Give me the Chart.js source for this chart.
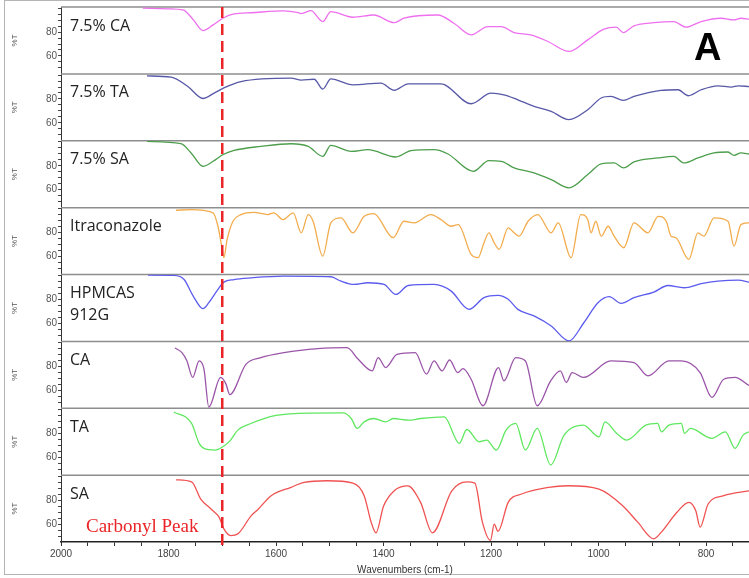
<!DOCTYPE html>
<html>
<head>
<meta charset="utf-8">
<script src="https://cdn.jsdelivr.net/npm/chart.js@4.4.0/dist/chart.umd.min.js"></script>
<style>
  html, body { margin: 0; padding: 0; background: #fff; }
  #wrap { width: 749px; height: 578px; position: relative; }
</style>
</head>
<body>
<div id="wrap"><canvas id="ftir"></canvas></div>
<script>
// spectra as [wavenumber, %T] pairs
const ca75 = [[1848,100],[1800,99.5],[1773,98.5],[1755,91],[1736,81.3],[1717,86],[1699,91.6],[1678,95.2],[1646,96.2],[1585,97.7],[1559,96.2],[1553,95.5],[1535,97.9],[1513,88.8],[1498,97.1],[1457,92.4],[1418,94.3],[1380,87.9],[1362,91.6],[1299,94.3],[1269,87.4],[1237,77.7],[1206,84.6],[1181,84.6],[1157,79.6],[1126,77.7],[1094,72.1],[1055,63.8],[1020,73.5],[990,82.4],[967,84.1],[954,79.6],[934,85.2],[897,87.9],[860,88.8],[837,84.1],[809,88.8],[772,91.6],[748,90.2],[735,91.6],[720,90.8]];
const ta75 = [[1840,99.3],[1795,98.3],[1764,90.4],[1736,80.4],[1715,84.9],[1697,89.3],[1665,94.6],[1572,97.4],[1553,95.8],[1529,96.5],[1513,88.3],[1498,96.8],[1457,91.8],[1405,93.3],[1380,87.3],[1354,92.7],[1293,92.7],[1237,76],[1200,84.9],[1176,83.5],[1150,79.3],[1120,73.8],[1088,69.6],[1055,62.7],[1020,71],[995,80.8],[977,82.1],[954,78.8],[934,82.1],[884,87.1],[852,87.7],[833,82.7],[809,87.7],[778,91],[753,89.9],[740,91],[720,90.4]];
const sa75 = [[1840,100.4],[1777,98.5],[1758,90.8],[1736,79.6],[1717,83.8],[1699,89.3],[1678,92.9],[1628,96.3],[1572,98.5],[1540,96.3],[1513,87.9],[1498,97.1],[1460,92.1],[1429,93.5],[1377,87.4],[1349,92.7],[1306,93.5],[1280,89.9],[1233,75.4],[1204,84.3],[1181,83.8],[1157,78.3],[1120,74.1],[1088,68.5],[1055,61.6],[1020,72.7],[995,81.6],[971,82.4],[953,78.3],[934,83.3],[889,86.6],[860,87.9],[841,82.4],[815,86.6],[785,90.8],[759,91.6],[748,88.8],[735,90.8],[720,89.9]];
const itra = [[1786,98.8],[1758,99.3],[1717,96.6],[1708,85.4],[1700,66],[1697,59.1],[1691,74.3],[1680,89.6],[1665,95.2],[1641,97.1],[1615,95.2],[1604,96.6],[1587,91],[1568,96.6],[1553,79.9],[1540,95.2],[1531,89.6],[1513,60.4],[1498,88.3],[1479,92.4],[1457,79.9],[1436,93.7],[1418,96],[1382,75.8],[1362,89.6],[1343,88.3],[1312,95.2],[1293,91],[1274,85.4],[1261,86.8],[1237,61.8],[1224,59.1],[1213,71.6],[1204,79.9],[1194,71.6],[1185,66],[1168,84.1],[1157,79.9],[1148,77.1],[1131,89.6],[1113,95.2],[1088,79.9],[1075,88.3],[1051,59.1],[1033,95.2],[1020,91],[1014,79.9],[1005,89.6],[995,77.1],[982,85.4],[971,77.1],[953,67.4],[934,88.3],[908,79.9],[889,93.7],[874,89.6],[865,77.1],[856,75.8],[832,57.7],[815,79.9],[804,77.1],[785,92.4],[759,89.6],[748,68.8],[735,86.8],[720,88.3]];
const hpmcas = [[1838,100.5],[1790,100.2],[1771,96.8],[1754,82.9],[1736,72.4],[1725,77.4],[1708,88.5],[1697,94.6],[1678,96.8],[1646,98.2],[1585,99.6],[1498,99.1],[1479,95.4],[1455,92.7],[1429,94.1],[1399,92.7],[1377,84.3],[1354,91.8],[1306,92.7],[1274,87.1],[1241,71.8],[1213,81.6],[1187,83.5],[1168,80.2],[1150,71.8],[1120,66.3],[1088,57.9],[1055,45.4],[1027,60.8],[1001,77.4],[980,82.4],[958,76.8],[934,81.6],[897,86.3],[871,91.8],[841,89.9],[809,93.3],[778,95.4],[740,96.3],[720,94.6]];
const ca = [[1788,95.5],[1775,91.6],[1766,85],[1755,70.8],[1743,84.6],[1734,77.7],[1725,46],[1703,70.8],[1693,65.2],[1686,56.4],[1656,81.8],[1628,87.4],[1585,91.6],[1522,94.9],[1468,95.7],[1447,86],[1421,76.3],[1410,87.4],[1396,79.1],[1375,90.2],[1341,91.6],[1320,73.5],[1306,84.6],[1291,76.3],[1277,85.4],[1262,74.9],[1252,78.2],[1237,69.3],[1215,47.1],[1186,79.1],[1176,68],[1154,87.4],[1136,84.6],[1114,47.1],[1089,68],[1071,76.3],[1060,66.6],[1049,74.9],[1028,70.8],[977,84.6],[934,83.2],[908,72.1],[869,84.6],[846,84.6],[811,74.9],[789,54.1],[767,69.3],[746,70.8],[720,64]];
const ta = [[1790,97.9],[1757,88.3],[1743,71.6],[1734,67.4],[1713,66],[1699,68.8],[1686,73.5],[1671,82.7],[1648,88],[1600,95],[1535,97],[1475,97.1],[1460,92.4],[1449,84.1],[1436,89.6],[1418,92.4],[1396,89.6],[1382,92.4],[1353,91],[1331,92.4],[1287,93.8],[1259,71.6],[1245,83.2],[1222,72.9],[1208,74.3],[1190,66],[1172,82.7],[1154,88.3],[1136,66],[1114,84.1],[1089,53.5],[1064,78.5],[1028,86.8],[999,77.1],[988,89.6],[966,79.9],[948,74.3],[912,86.8],[890,88.3],[883,81.3],[869,86.8],[846,88.3],[840,79.9],[829,84.1],[789,75.8],[764,81.3],[746,67.4],[731,78.5],[720,81.3]];
const sa = [[1786,97.1],[1757,95.4],[1740,81],[1721,72.7],[1706,65.8],[1697,56],[1684,50.4],[1671,51.8],[1646,67.1],[1634,72],[1609,83.8],[1572,90.8],[1548,94.9],[1505,96.3],[1457,94.3],[1436,83.8],[1423,61.6],[1414,52.7],[1400,75],[1380,88],[1355,92],[1331,78.2],[1309,52.7],[1273,87.9],[1245,95.4],[1230,94.3],[1216,61.6],[1201,46.3],[1194,60],[1187,54],[1168,78.2],[1143,85.2],[1093,90.8],[1057,92.1],[999,89.3],[955,75.4],[927,61.6],[897,47.7],[883,53.3],[854,69.9],[832,78.2],[819,71.2],[811,57.4],[796,76.8],[767,83.8],[720,87.9]];

const spectra = [ca75, ta75, sa75, itra, hpmcas, ca, ta, sa];
const panelNames = [['7.5% CA'], ['7.5% TA'], ['7.5% SA'], ['Itraconazole'], ['HPMCAS', '912G'], ['CA'], ['TA'], ['SA']];
const colors = ['#ee70ee', '#5858a8', '#4c9e4c', '#f2ac4c', '#5b5bee', '#9a55a8', '#5fe85f', '#f05252'];

const xTicks = [750, 800, 850, 900, 950, 1000, 1050, 1100, 1150, 1200, 1250, 1300, 1350, 1400, 1450, 1500, 1550, 1600, 1650, 1700, 1750, 1800, 1850, 1900, 1950, 2000];
const xTickLabels = [800, 1000, 1200, 1400, 1600, 1800, 2000];
const yTicks = [50, 55, 60, 65, 70, 75, 80, 85, 90, 95, 100];
const yTickLabels = [60, 80];
const carbonylPeak = 1700;

Chart.defaults.font.family = 'Liberation Sans';

function yScale(i) {
  return {
    type: 'linear',
    position: 'left',
    stack: 'spectra',
    stackWeight: 1,
    min: 45,
    max: 101,
    afterFit: s => { s.width = 61; },
    afterBuildTicks: s => { s.ticks = yTicks.map(v => ({value: v})); },
    border: {display: true, color: '#333', width: 1},
    grid: {drawOnChartArea: false, tickLength: 3, color: '#444'},
    ticks: {
      autoSkip: false,
      padding: 1,
      color: '#555',
      font: {size: 10},
      callback: v => yTickLabels.includes(v) ? v : '',
    },
    title: {display: true, text: '%T', color: '#555', font: {size: 8}, padding: {top: 10, bottom: 0}},
  };
}

const scales = {
  x: {
    type: 'linear',
    reverse: true,
    min: 720,
    max: 2000,
    afterBuildTicks: s => { s.ticks = xTicks.map(v => ({value: v})); },
    afterFit: s => { s.height = 34; },
    border: {display: true, color: '#222', width: 1.5},
    grid: {drawOnChartArea: false, tickLength: 4, color: '#333'},
    ticks: {
      autoSkip: false,
      maxRotation: 0,
      padding: 2,
      color: '#444',
      font: {size: 10},
      callback: v => xTickLabels.includes(v) ? v : '',
    },
    title: {display: true, text: 'Wavenumbers (cm-1)', color: '#333', font: {size: 10}, padding: {top: 0, bottom: 0}},
  },
};
// later keys end up higher in the stack, so add the bottom panel first
for (let i = spectra.length - 1; i >= 0; i--) {
  scales['y' + i] = yScale(i);
}

const decor = {
  id: 'decor',
  beforeDraw(chart) {
    const ctx = chart.ctx;
    ctx.save();
    ctx.strokeStyle = '#b4b4b4';
    ctx.lineWidth = 1;
    ctx.strokeRect(4.5, 0.5, 800, 574);
    ctx.restore();
  },
  beforeDatasetsDraw(chart) {
    const {ctx, chartArea} = chart;
    ctx.save();
    ctx.strokeStyle = '#8e8e8e';
    ctx.lineWidth = 1.5;
    spectra.forEach((s, i) => {
      const top = chart.scales['y' + i].top;
      ctx.beginPath();
      ctx.moveTo(chartArea.left, top);
      ctx.lineTo(chartArea.right, top);
      ctx.stroke();
    });
    ctx.restore();
  },
  afterDatasetsDraw(chart) {
    const {ctx, chartArea} = chart;
    ctx.save();
    // panel names
    ctx.fillStyle = '#222';
    ctx.font = '16px "Open Sans"';
    ctx.textBaseline = 'alphabetic';
    panelNames.forEach((lines, i) => {
      const top = chart.scales['y' + i].top;
      lines.forEach((t, j) => ctx.fillText(t, chartArea.left + 9, top + 23.5 + j * 22));
    });
    // carbonyl marker
    const x = chart.scales.x.getPixelForValue(carbonylPeak);
    ctx.strokeStyle = '#ea2428';
    ctx.lineWidth = 2.5;
    ctx.setLineDash([11, 6]);
    ctx.beginPath();
    ctx.moveTo(x, chartArea.top);
    ctx.lineTo(x, chartArea.bottom + 8);
    ctx.stroke();
    ctx.setLineDash([]);
    ctx.fillStyle = '#ea2428';
    ctx.font = '19px "Liberation Serif"';
    ctx.fillText('Carbonyl Peak', chartArea.left + 25, chart.scales.y7.top + 57);
    ctx.fillStyle = '#000';
    ctx.font = 'bold 38px "Liberation Sans"';
    ctx.fillText('A', 694, chartArea.top + 53);
    ctx.restore();
  },
};

new Chart(document.getElementById('ftir'), {
  type: 'line',
  data: {
    datasets: spectra.map((s, i) => ({
      data: s.map(p => ({x: p[0], y: p[1]})),
      yAxisID: 'y' + i,
      borderColor: colors[i],
      borderWidth: 1.3,
      pointRadius: 0,
      cubicInterpolationMode: 'monotone',
      fill: false,
    })),
  },
  options: {
    responsive: true,
    maintainAspectRatio: false,
    animation: false,
    layout: {padding: {top: 7, right: 0, bottom: 2, left: 0}},
    plugins: {legend: {display: false}, tooltip: {enabled: false}},
    scales: scales,
  },
  plugins: [decor],
});
</script>
</body>
</html>
